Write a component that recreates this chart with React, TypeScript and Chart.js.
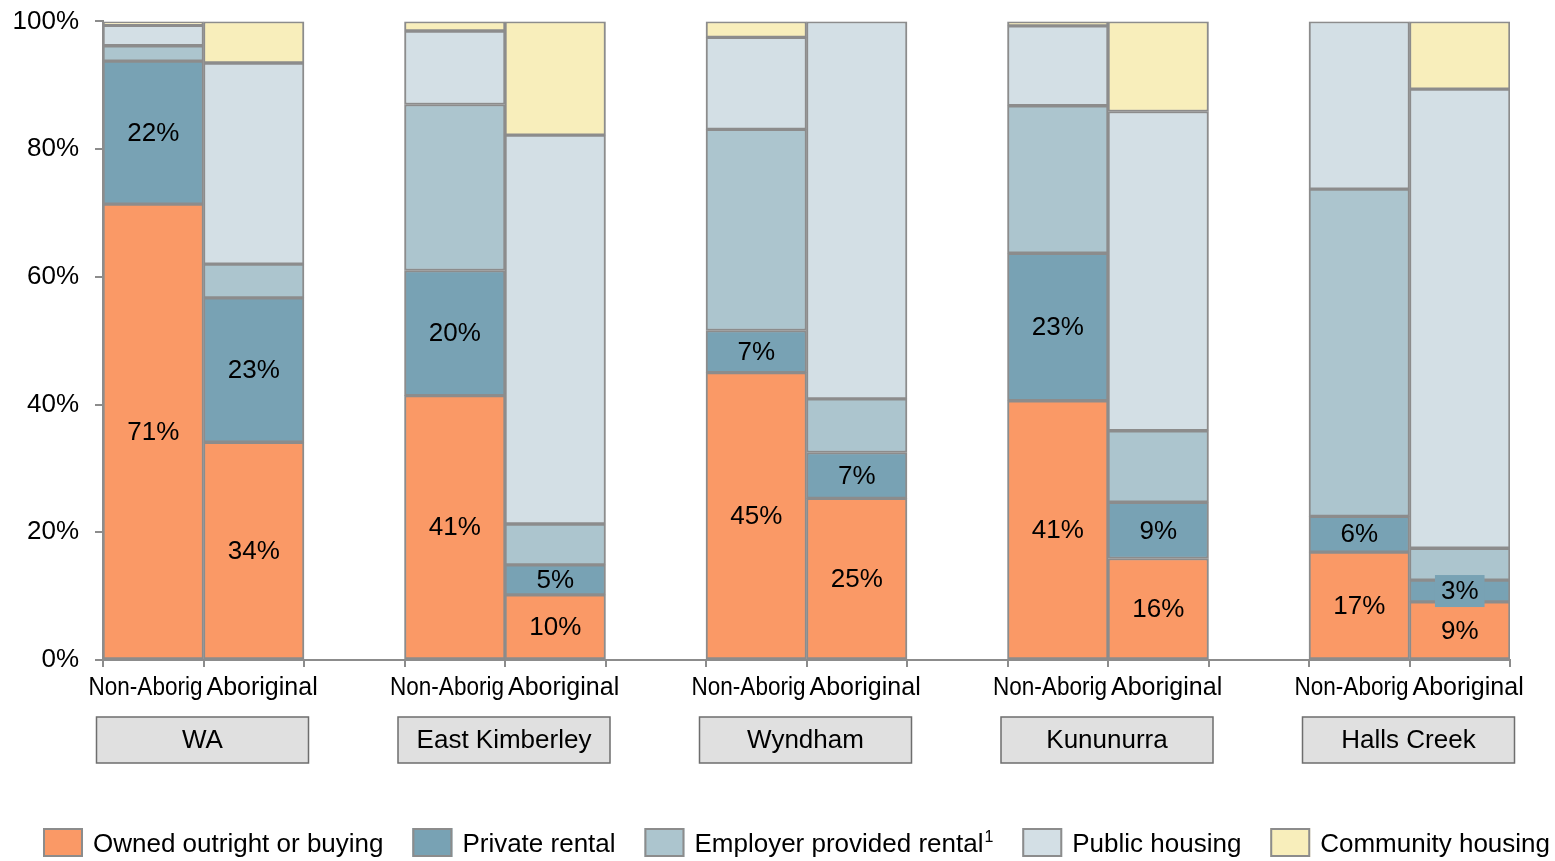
import React, { useEffect, useRef } from "react";
import { Chart, registerables } from "chart.js";
Chart.register(...registerables);

const categories = [
  "Non-Aborig", "Aboriginal", "",
  "Non-Aborig", "Aboriginal", "",
  "Non-Aborig", "Aboriginal", "",
  "Non-Aborig", "Aboriginal", "",
  "Non-Aborig", "Aboriginal",
];
const groups = ["WA", "East Kimberley", "Wyndham", "Kununurra", "Halls Creek"];

const owned = [71.4, 34.1, null, 41.4, 10.2, null, 45.0, 25.3, null, 40.6, 15.9, null, 16.9, 9.1];
const privateRental = [22.4, 22.6, null, 19.6, 4.7, null, 6.6, 7.2, null, 23.1, 8.8, null, 5.6, 3.4];
const employerRental = [2.4, 5.3, null, 26.0, 6.4, null, 31.5, 8.4, null, 23.1, 11.2, null, 51.25, 5.0];
const publicHousing = [3.2, 31.5, null, 11.5, 60.9, null, 14.4, 59.1, null, 12.5, 50.0, null, 26.25, 71.9];
const communityHousing = [0.6, 6.5, null, 1.5, 17.8, null, 2.5, null, null, 0.7, 14.1, null, null, 10.6];

const seriesNames = [
  "Owned outright or buying",
  "Private rental",
  "Employer provided rental",
  "Public housing",
  "Community housing",
];
const seriesColors = ["#FA9966", "#78A2B4", "#ACC5CE", "#D3DFE5", "#F8EEBB"];
const labelledSeries = [0, 1];

const FONT = '"Liberation Sans", Arial, Helvetica, sans-serif';
const BORDER = "#8C8C8C";

const overlayPlugin = {
  id: "overlay",
  afterDatasetsDraw(chart: any) {
    const ctx = chart.ctx;
    ctx.save();
    ctx.font = `26px ${FONT}`;
    ctx.textAlign = "center";
    ctx.textBaseline = "middle";
    labelledSeries.forEach((di) => {
      const meta = chart.getDatasetMeta(di);
      const data = chart.data.datasets[di].data;
      meta.data.forEach((el: any, i: number) => {
        const v = data[i];
        if (v === null || v === undefined) return;
        const top = Math.min(el.y, el.base);
        const bot = Math.max(el.y, el.base);
        const cy = (top + bot) / 2;
        const txt = Math.round(v) + "%";
        if (bot - top < 26) {
          const w = ctx.measureText(txt).width + 12;
          ctx.fillStyle = seriesColors[di];
          ctx.fillRect(el.x - w / 2, cy - 16, w, 32);
        }
        ctx.fillStyle = "#000";
        ctx.fillText(txt, el.x, cy + 1);
      });
    });
    ctx.restore();
  },
  afterDraw(chart: any) {
    const ctx = chart.ctx;
    const xs = chart.scales.x;
    const slot = xs.width / categories.length;
    ctx.save();
    // category labels
    ctx.font = `25px ${FONT}`;
    ctx.fillStyle = "#000";
    ctx.textBaseline = "middle";
    categories.forEach((c, i) => {
      if (!c) return;
      const cx = xs.getPixelForValue(i);
      if (i % 3 === 0) {
        ctx.textAlign = "right";
        ctx.fillText(c, cx + slot / 2 - 1, 688, 114);
      } else {
        ctx.textAlign = "left";
        ctx.fillText(c, cx - slot / 2 + 3, 688);
      }
    });
    // group boxes
    groups.forEach((g, gi) => {
      const cx = (xs.getPixelForValue(gi * 3) + xs.getPixelForValue(gi * 3 + 1)) / 2 - 1;
      const w = 212;
      const top = 717;
      const h = 46;
      ctx.fillStyle = "#E0E0E0";
      ctx.fillRect(cx - w / 2, top, w, h);
      ctx.strokeStyle = "#6E6E6E";
      ctx.lineWidth = 1.5;
      ctx.strokeRect(cx - w / 2, top, w, h);
      ctx.fillStyle = "#000";
      ctx.font = `26px ${FONT}`;
      ctx.textAlign = "center";
      ctx.textBaseline = "middle";
      ctx.fillText(g, cx, top + h / 2 + 1);
    });
    // legend
    const mainFont = `26px ${FONT}`;
    const supFont = `16px ${FONT}`;
    ctx.font = mainFont;
    const widths = seriesNames.map((n, i) => {
      let w = ctx.measureText(n).width;
      if (i === 2) {
        ctx.font = supFont;
        w += 1 + ctx.measureText("1").width;
        ctx.font = mainFont;
      }
      return 50 + w;
    });
    const startX = 43;
    const endX = 1550;
    const total = widths.reduce((a, b) => a + b, 0);
    const gap = (endX - startX - total) / (seriesNames.length - 1);
    let x = startX;
    const boxTop = 828;
    seriesNames.forEach((n, i) => {
      ctx.fillStyle = seriesColors[i];
      ctx.fillRect(x, boxTop, 40, 29);
      ctx.strokeStyle = BORDER;
      ctx.lineWidth = 2;
      ctx.strokeRect(x + 1, boxTop + 1, 38, 27);
      ctx.fillStyle = "#000";
      ctx.font = mainFont;
      ctx.textAlign = "left";
      ctx.textBaseline = "middle";
      ctx.fillText(n, x + 50, boxTop + 17);
      if (i === 2) {
        const tw = ctx.measureText(n).width;
        ctx.font = supFont;
        ctx.fillText("1", x + 50 + tw + 1, boxTop + 10);
      }
      x += widths[i] + gap;
    });
    ctx.restore();
  },
};

export default function App() {
  const ref = useRef<HTMLCanvasElement>(null);
  useEffect(() => {
    if (!ref.current) return;
    Chart.defaults.font.family = FONT;
    Chart.defaults.font.size = 26;
    Chart.defaults.color = "#000";
    const all = [owned, privateRental, employerRental, publicHousing, communityHousing];
    const chart = new Chart(ref.current, {
      type: "bar",
      data: {
        labels: categories,
        datasets: all.map((d, i) => ({
          label: seriesNames[i],
          data: d,
          backgroundColor: seriesColors[i],
          borderColor: BORDER,
          borderWidth: 2,
          borderSkipped: false,
          categoryPercentage: 1,
          barPercentage: 1,
        })),
      },
      options: {
        responsive: false,
        animation: false,
        layout: { padding: { left: 0, right: 45, top: 0, bottom: 0 } },
        plugins: { legend: { display: false }, tooltip: { enabled: false } },
        scales: {
          x: {
            stacked: true,
            offset: true,
            grid: {
              display: true,
              drawOnChartArea: false,
              drawTicks: true,
              tickLength: 7,
              color: BORDER,
              lineWidth: 2,
              offset: true,
            },
            border: { display: true, color: BORDER, width: 2 },
            ticks: {
              display: false,
              autoSkip: false,
              maxRotation: 0,
              minRotation: 0,
            },
            afterFit: (s: any) => {
              s.height = 201;
            },
          },
          y: {
            stacked: true,
            min: 0,
            max: 100,
            grid: {
              display: true,
              drawOnChartArea: false,
              drawTicks: true,
              tickLength: 8,
              color: BORDER,
              lineWidth: 2,
            },
            border: { display: true, color: BORDER, width: 2 },
            ticks: {
              stepSize: 20,
              padding: 16,
              color: "#000",
              font: { size: 26, family: FONT, lineHeight: 0.42 },
              callback: (v: any) => v + "%",
            },
            afterFit: (s: any) => {
              s.width = 103;
            },
          },
        },
      },
      plugins: [overlayPlugin],
    });
    return () => chart.destroy();
  }, []);
  return (
    <div style={{ position: "fixed", left: 0, top: 0, width: 1555, height: 861, background: "#fff" }}>
      <canvas ref={ref} width={1555} height={861} />
    </div>
  );
}
